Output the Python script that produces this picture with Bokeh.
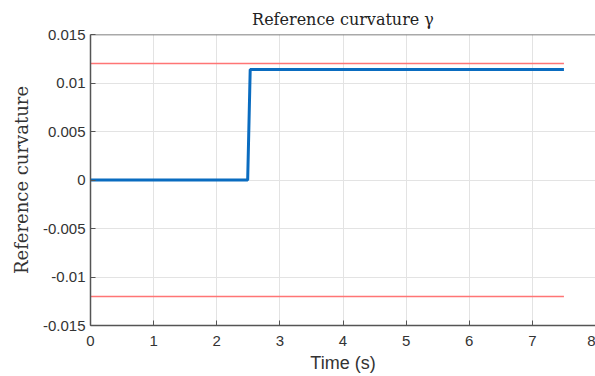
from bokeh.plotting import figure
from bokeh.models import FixedTicker, Range1d, Span
from bokeh.embed import file_html
from bokeh.resources import INLINE

# Data
time = [0.0, 2.49, 2.53, 7.5]
curvature = [0.0, 0.0, 0.0114, 0.0114]
bound_time = [0.0, 7.5]
upper_bound = [0.012, 0.012]
lower_bound = [-0.012, -0.012]
x_ticks = [0, 1, 2, 3, 4, 5, 6, 7, 8]
y_ticks = [-0.015, -0.01, -0.005, 0, 0.005, 0.01, 0.015]
y_tick_labels = {-0.015: "-0.015", -0.01: "-0.01", -0.005: "-0.005", 0: "0",
                 0.005: "0.005", 0.01: "0.01", 0.015: "0.015"}

p = figure(width=595, height=376, output_backend="svg", toolbar_location=None,
           x_range=Range1d(0, 8), y_range=Range1d(-0.015, 0.015),
           x_axis_label="Time (s)", y_axis_label="Reference curvature",
           title="Reference curvature γ")
p.min_border_left = 90
p.min_border_right = 0
p.min_border_top = 34
p.min_border_bottom = 51

p.title.text_font = "DejaVu Serif"
p.title.text_font_style = "normal"
p.title.text_font_size = "16px"
p.title.text_color = "#222222"
p.title.align = "center"
p.title.standoff = 11

axis_color = "#555555"
for ax in [p.xaxis[0], p.yaxis[0]]:
    ax.axis_line_color = axis_color
    ax.axis_line_width = 1.5
    ax.major_tick_line_color = axis_color
    ax.major_tick_in = 5
    ax.major_tick_out = 0
    ax.minor_tick_line_color = None
    ax.major_label_text_font = "Liberation Sans"
    ax.major_label_text_font_size = "15px"
    ax.major_label_text_color = "#333333"

p.xaxis.ticker = FixedTicker(ticks=x_ticks)
p.yaxis.ticker = FixedTicker(ticks=y_ticks)
p.yaxis.major_label_overrides = y_tick_labels
p.xaxis.major_label_standoff = 10
p.yaxis.major_label_standoff = 5

p.xaxis.axis_label_text_font = "Liberation Sans"
p.xaxis.axis_label_text_font_style = "normal"
p.xaxis.axis_label_text_font_size = "18px"
p.xaxis.axis_label_text_color = "#333333"
p.xaxis.axis_label_standoff = 4
p.yaxis.axis_label_text_font = "DejaVu Serif"
p.yaxis.axis_label_text_font_style = "normal"
p.yaxis.axis_label_text_font_size = "18px"
p.yaxis.axis_label_text_color = "#333333"
p.yaxis.axis_label_standoff = 8

top_border = Span(location=0.015, dimension="width", line_color=axis_color, line_width=1.5)
p.add_layout(top_border)

p.xgrid.ticker = FixedTicker(ticks=x_ticks)
p.ygrid.ticker = FixedTicker(ticks=y_ticks)
p.grid.grid_line_color = "#e3e3e3"
p.grid.grid_line_width = 1
p.outline_line_color = None
p.background_fill_color = "white"
p.border_fill_color = "white"

p.line(bound_time, upper_bound, line_color="#ff7575", line_width=1.5)
p.line(bound_time, lower_bound, line_color="#ff7575", line_width=1.5)
p.line(time, curvature, line_color="#0a6cc0", line_width=3)

open("out.html", "w").write(file_html(p, INLINE))
